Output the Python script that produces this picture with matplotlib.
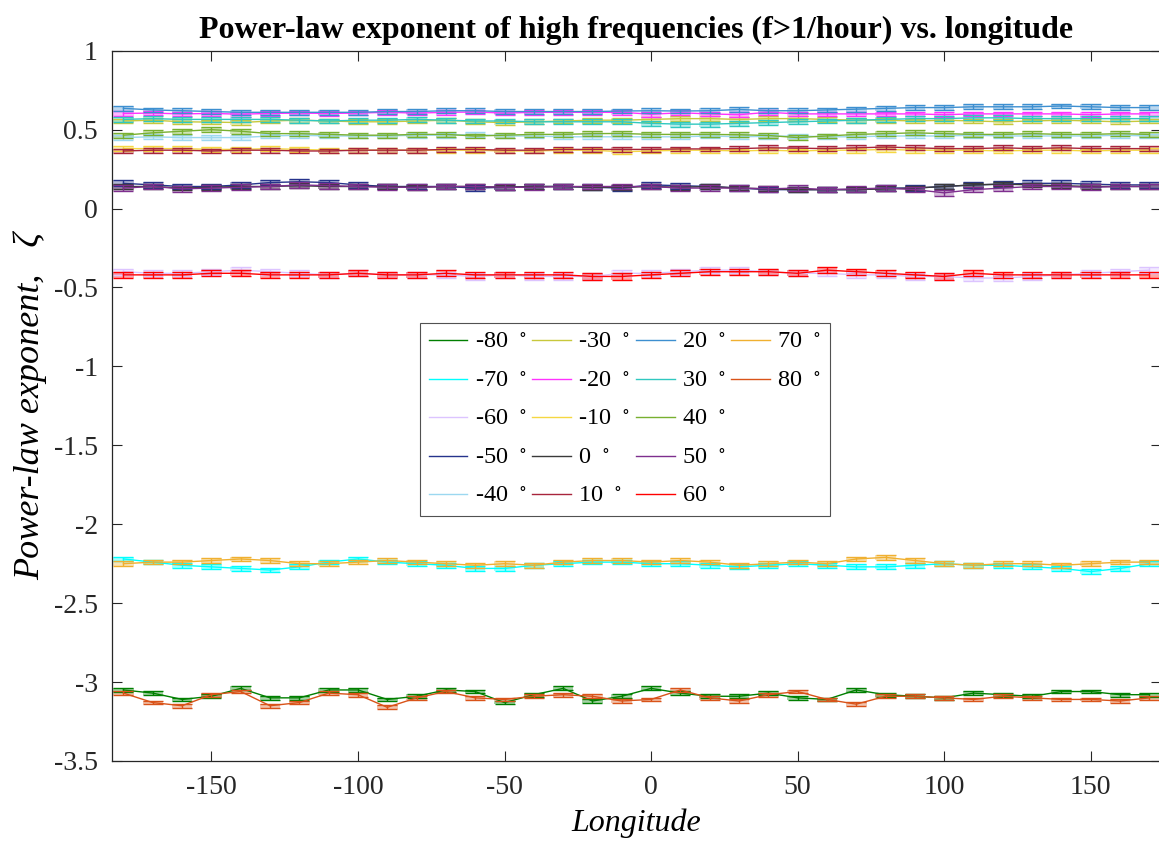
import matplotlib
matplotlib.use('Agg')
import matplotlib.pyplot as plt
from matplotlib.lines import Line2D
from matplotlib.ticker import FormatStrFormatter

plt.rcParams['font.family'] = ['Liberation Serif', 'DejaVu Serif']
plt.rcParams['mathtext.fontset'] = 'stix'
plt.rcParams['axes.unicode_minus'] = False

# data
lon = list(range(-180, 180, 10))
lats = [-80, -70, -60, -50, -40, -30, -20, -10, 0, 10, 20, 30, 40, 50, 60, 70, 80]

z_m80 = [-3.05, -3.07, -3.11, -3.09, -3.04, -3.10, -3.10, -3.05, -3.05, -3.11, -3.09, -3.05,
         -3.06, -3.13, -3.08, -3.04, -3.12, -3.09, -3.04, -3.07, -3.09, -3.09, -3.07, -3.10,
         -3.11, -3.05, -3.08, -3.09, -3.10, -3.07, -3.08, -3.09, -3.06, -3.06, -3.08, -3.08]
z_m70 = [-2.22, -2.24, -2.26, -2.27, -2.28, -2.29, -2.27, -2.24, -2.22, -2.24, -2.25, -2.26,
         -2.28, -2.28, -2.26, -2.25, -2.24, -2.24, -2.25, -2.25, -2.26, -2.27, -2.26, -2.25,
         -2.26, -2.27, -2.27, -2.26, -2.25, -2.26, -2.26, -2.27, -2.28, -2.30, -2.28, -2.25]
z_m60 = [-0.40, -0.41, -0.41, -0.40, -0.39, -0.40, -0.41, -0.42, -0.41, -0.42, -0.42, -0.42,
         -0.43, -0.42, -0.43, -0.43, -0.43, -0.41, -0.41, -0.40, -0.39, -0.39, -0.40, -0.41,
         -0.41, -0.42, -0.42, -0.43, -0.43, -0.44, -0.44, -0.43, -0.42, -0.41, -0.40, -0.39]
z_m50 = [0.16, 0.15, 0.14, 0.14, 0.15, 0.165, 0.17, 0.165, 0.15, 0.14, 0.14, 0.14,
         0.13, 0.135, 0.14, 0.14, 0.135, 0.13, 0.15, 0.145, 0.14, 0.13, 0.12, 0.12,
         0.12, 0.12, 0.13, 0.13, 0.14, 0.15, 0.155, 0.16, 0.16, 0.155, 0.15, 0.15]
z_m40 = [0.45, 0.455, 0.45, 0.45, 0.45, 0.46, 0.465, 0.46, 0.46, 0.46, 0.465, 0.465,
         0.47, 0.46, 0.46, 0.455, 0.455, 0.455, 0.455, 0.455, 0.46, 0.455, 0.458, 0.46,
         0.455, 0.455, 0.46, 0.46, 0.46, 0.465, 0.46, 0.46, 0.46, 0.46, 0.465, 0.46]
z_m30 = [0.555, 0.56, 0.55, 0.548, 0.545, 0.555, 0.56, 0.555, 0.55, 0.55, 0.555, 0.56,
         0.55, 0.545, 0.55, 0.555, 0.56, 0.56, 0.565, 0.57, 0.57, 0.565, 0.57, 0.57,
         0.565, 0.56, 0.56, 0.555, 0.56, 0.555, 0.55, 0.555, 0.56, 0.555, 0.55, 0.555]
z_m20 = [0.603, 0.605, 0.60, 0.603, 0.598, 0.603, 0.605, 0.603, 0.605, 0.61, 0.605, 0.61,
         0.612, 0.605, 0.61, 0.61, 0.61, 0.61, 0.598, 0.607, 0.60, 0.595, 0.61, 0.60,
         0.60, 0.60, 0.60, 0.60, 0.595, 0.60, 0.60, 0.60, 0.60, 0.595, 0.60, 0.60]
z_m10 = [0.38, 0.38, 0.38, 0.375, 0.375, 0.38, 0.375, 0.37, 0.37, 0.37, 0.37, 0.37,
         0.37, 0.365, 0.365, 0.37, 0.37, 0.36, 0.365, 0.37, 0.37, 0.365, 0.37, 0.365,
         0.37, 0.37, 0.375, 0.37, 0.37, 0.37, 0.365, 0.37, 0.37, 0.365, 0.37, 0.37]
z_0 = [0.14, 0.14, 0.13, 0.135, 0.14, 0.14, 0.145, 0.14, 0.14, 0.14, 0.135, 0.14,
       0.14, 0.135, 0.14, 0.14, 0.135, 0.135, 0.14, 0.135, 0.14, 0.13, 0.125, 0.12,
       0.12, 0.12, 0.125, 0.13, 0.14, 0.15, 0.155, 0.15, 0.145, 0.14, 0.14, 0.14]
z_10 = [0.365, 0.37, 0.37, 0.365, 0.37, 0.37, 0.365, 0.365, 0.37, 0.37, 0.37, 0.375,
        0.375, 0.37, 0.37, 0.375, 0.375, 0.375, 0.375, 0.378, 0.378, 0.38, 0.385, 0.383,
        0.38, 0.385, 0.39, 0.385, 0.38, 0.38, 0.385, 0.38, 0.385, 0.38, 0.38, 0.38]
z_20 = [0.635, 0.625, 0.62, 0.615, 0.61, 0.61, 0.61, 0.61, 0.61, 0.615, 0.615, 0.62,
        0.62, 0.615, 0.615, 0.615, 0.615, 0.618, 0.62, 0.618, 0.62, 0.628, 0.62, 0.62,
        0.625, 0.63, 0.635, 0.64, 0.64, 0.645, 0.645, 0.645, 0.65, 0.645, 0.64, 0.64]
z_30 = [0.565, 0.57, 0.565, 0.565, 0.565, 0.565, 0.56, 0.555, 0.56, 0.56, 0.565, 0.56,
        0.555, 0.555, 0.55, 0.55, 0.55, 0.55, 0.54, 0.535, 0.535, 0.54, 0.545, 0.55,
        0.555, 0.56, 0.565, 0.57, 0.57, 0.575, 0.575, 0.57, 0.57, 0.57, 0.57, 0.57]
z_40 = [0.465, 0.48, 0.49, 0.50, 0.49, 0.475, 0.475, 0.47, 0.465, 0.465, 0.47, 0.47,
        0.46, 0.465, 0.47, 0.47, 0.475, 0.476, 0.47, 0.47, 0.47, 0.468, 0.463, 0.45,
        0.46, 0.47, 0.475, 0.48, 0.475, 0.47, 0.47, 0.475, 0.47, 0.47, 0.475, 0.47]
z_50 = [0.13, 0.14, 0.125, 0.13, 0.135, 0.14, 0.15, 0.145, 0.14, 0.135, 0.135, 0.14,
        0.14, 0.135, 0.135, 0.14, 0.14, 0.14, 0.14, 0.13, 0.13, 0.13, 0.125, 0.13,
        0.12, 0.125, 0.13, 0.12, 0.10, 0.12, 0.13, 0.14, 0.14, 0.135, 0.14, 0.14]
z_60 = [-0.42, -0.42, -0.42, -0.41, -0.41, -0.42, -0.42, -0.42, -0.41, -0.42, -0.42, -0.41,
        -0.42, -0.42, -0.42, -0.42, -0.43, -0.43, -0.42, -0.41, -0.40, -0.40, -0.40, -0.41,
        -0.39, -0.40, -0.41, -0.42, -0.43, -0.41, -0.42, -0.42, -0.42, -0.42, -0.42, -0.42]
z_70 = [-2.25, -2.24, -2.24, -2.23, -2.22, -2.23, -2.25, -2.25, -2.24, -2.23, -2.24, -2.25,
        -2.26, -2.25, -2.26, -2.24, -2.23, -2.23, -2.24, -2.23, -2.24, -2.26, -2.25, -2.24,
        -2.25, -2.22, -2.21, -2.23, -2.25, -2.26, -2.25, -2.25, -2.26, -2.25, -2.24, -2.24]
z_80 = [-3.07, -3.13, -3.15, -3.08, -3.06, -3.15, -3.13, -3.07, -3.08, -3.16, -3.10, -3.06,
        -3.10, -3.11, -3.09, -3.08, -3.09, -3.12, -3.11, -3.05, -3.10, -3.12, -3.08, -3.06,
        -3.11, -3.14, -3.09, -3.09, -3.10, -3.11, -3.09, -3.10, -3.11, -3.11, -3.12, -3.10]

zeta = [z_m80, z_m70, z_m60, z_m50, z_m40, z_m30, z_m20, z_m10, z_0,
        z_10, z_20, z_30, z_40, z_50, z_60, z_70, z_80]
# half-width of the error bars for each latitude
err = [0.012, 0.015, 0.02, 0.018, 0.015, 0.015, 0.015, 0.015, 0.015,
       0.015, 0.015, 0.015, 0.015, 0.018, 0.02, 0.015, 0.012]

colors = ['#007f00', '#00ffff', '#dcc4ff', '#26338c', '#9cd8f0', '#c8c83c', '#ff33ff',
          '#f5d742', '#3a3a3a', '#a8243c', '#3d8fd0', '#30c8c0', '#78b030', '#7e2f8e',
          '#ff0000', '#f0b030', '#d95319']

fig = plt.figure(figsize=(11.59, 8.46), dpi=100)
ax = fig.add_axes([0.0964, 0.1005, 0.9054, 0.8395])

handles = []
for lat, z, e, c in zip(lats, zeta, err, colors):
    lo = [v - e for v in z]
    ax.bar(lon, [2 * e] * len(lon), bottom=lo, width=7, color=c, alpha=0.35, linewidth=0)
    ax.errorbar(lon, z, yerr=e, fmt='none', ecolor=c, elinewidth=1, capsize=7.2, capthick=1)
    h, = ax.plot(lon, z, color=c, linewidth=1, label=f'{lat}  $^{{\\circ}}$')
    handles.append(h)

ax.set_xlim(-184, 174)
ax.set_ylim(-3.5, 1)
ax.set_xticks([-150, -100, -50, 0, 50, 100, 150])
ax.set_yticks([1, 0.5, 0, -0.5, -1, -1.5, -2, -2.5, -3, -3.5])
ax.yaxis.set_major_formatter(FormatStrFormatter('%g'))
ax.tick_params(direction='in', length=7, width=0.8, labelsize=20, colors='#262626',
               top=True, right=True)
ax.tick_params(axis='x', pad=10)
ax.tick_params(axis='y', pad=10)
for s in ax.spines.values():
    s.set_color('#262626')
    s.set_linewidth(0.9)

ax.set_title('Power-law exponent of high frequencies (f>1/hour) vs. longitude',
             fontsize=23, fontweight='bold', pad=9)
ax.set_xlabel('Longitude', fontsize=23, fontstyle='italic', labelpad=6)
ax.set_ylabel('Power-law exponent,   ζ', fontsize=26, fontstyle='italic', labelpad=5)

# pad the last column with empty entries so the columns hold 5, 5, 5, 2 items
blank = Line2D([], [], linestyle='none')
leg = ax.legend(handles + [blank] * 3, [h.get_label() for h in handles] + [''] * 3,
                ncol=4, loc='upper left', bbox_to_anchor=(420 / 1159, 1 - 323 / 846),
                bbox_transform=fig.transFigure, borderaxespad=0, fontsize=17.5,
                frameon=True, fancybox=False, handlelength=1.6, labelspacing=0.68,
                columnspacing=0.22, borderpad=0.35, handletextpad=0.3)
leg.get_frame().set_edgecolor('#262626')
leg.get_frame().set_linewidth(0.8)

fig.savefig('out.png', dpi=100)
